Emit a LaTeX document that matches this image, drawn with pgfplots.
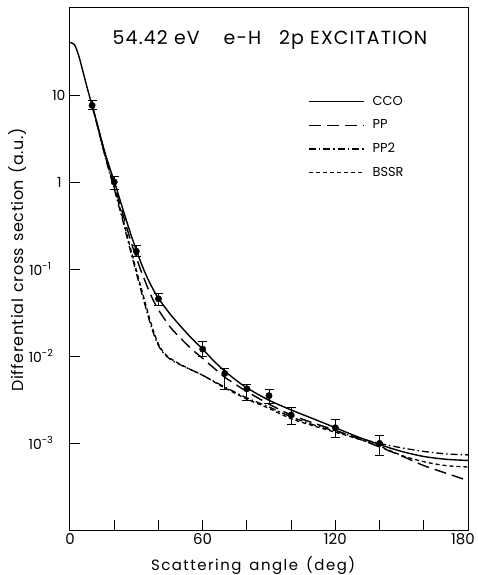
\documentclass[border=0pt]{standalone}
\usepackage{fontspec}
\setmainfont{Poppins}
\newfontfamily\wideA[LetterSpace=4]{Poppins}
\newfontfamily\wideB[LetterSpace=10]{Poppins}
\newfontfamily\wideT[LetterSpace=6]{Poppins}
\usepackage{pgfplots}
\pgfplotsset{compat=1.18}
\begin{document}
\begin{tikzpicture}
\path[use as bounding box] (-70bp,-45bp) rectangle (408bp,530bp);
\begin{axis}[
  at={(0,0)}, anchor=south west,
  scale only axis, width=398bp, height=522bp,
  xmin=0, xmax=180, ymode=log, ymin=1e-4, ymax=100,
  xtick={0,20,...,180}, xticklabels={0,,,60,,,120,,,180\kern10bp},
  ytick={0.001,0.01,0.1,1,10},
  yticklabels={10\textsuperscript{-3}\kern12bp,10\textsuperscript{-2}\kern12bp,10\textsuperscript{-1}\kern14bp,1\kern4bp,10},
  yminorticks=false, xminorticks=false,
  tick align=inside, tick pos=left, major tick length=10bp,
  axis line style={line width=1bp},
  every tick/.style={line width=1bp, black},
  xticklabel style={font=\fontsize{15}{15}\selectfont},
  yticklabel style={font=\fontsize{14}{14}\selectfont, xshift=-1bp},
  xlabel={Scattering\kern8bp angle\kern8bp (deg)},
  ylabel={Differential\kern6bp cross\kern6bp section\kern6bp (a.u.)},
  xlabel style={font=\wideB\fontsize{15}{15}\selectfont, at={(axis description cs:0.46,-0.0785)}, anchor=base},
  ylabel style={font=\wideA\fontsize{16}{16}\selectfont, at={(axis description cs:-0.133,0.517)}, anchor=center},
  legend style={draw=none, fill=none, at={(0.598,0.835)}, anchor=north west,
    font=\fontsize{13}{13}\selectfont, row sep=9bp, inner sep=0pt, cells={anchor=west}},
  legend image code/.code={\draw[#1] (0bp,0bp) -- (55bp,0bp);},
]
\addplot[black, line width=1.4bp, smooth] coordinates {
(0,40) (2,38) (4,28) (6,18) (8,11.5) (10,7.6) (12,5.0) (14,3.2) (16,2.1) (18,1.45)
(20,1.02) (22,0.7) (24,0.48) (26,0.33) (28,0.23) (30,0.165) (32,0.12) (34,0.09)
(36,0.07) (38,0.056) (40,0.046) (45,0.031) (50,0.022) (55,0.016) (60,0.012)
(65,0.0088) (70,0.0067) (75,0.0053) (80,0.0043) (90,0.0031) (100,0.0024)
(110,0.0019) (120,0.0015) (130,0.00118) (140,0.00096) (150,0.0008) (160,0.0007)
(170,0.00065) (180,0.00063)};
\addlegendentry{\kern6bp CCO}
\addplot[black, line width=1.4bp, smooth, dash pattern=on 12bp off 6bp] coordinates {
(10,7.5) (12,4.9) (14,3.1) (16,2.0) (18,1.35) (20,0.93) (22,0.63) (24,0.42)
(26,0.28) (28,0.19) (30,0.135) (32,0.097) (34,0.072) (36,0.054) (38,0.042)
(40,0.034) (45,0.022) (50,0.016) (55,0.012) (60,0.0094) (65,0.0073) (70,0.0057)
(75,0.0047) (80,0.0039) (90,0.0028) (100,0.0021) (110,0.0017) (120,0.0014)
(130,0.00113) (140,0.0009) (150,0.00071) (160,0.00055) (170,0.00045) (180,0.00037)};
\addlegendentry{\kern6bp PP}
\addplot[black, line width=1.3bp, smooth, dash pattern=on 7bp off 3bp on 1.5bp off 3bp] coordinates {
(10,7.5) (12,4.8) (14,3.0) (16,1.9) (18,1.25) (20,0.83) (22,0.54) (24,0.35)
(26,0.22) (28,0.14) (30,0.09) (32,0.058) (34,0.038) (36,0.025) (38,0.0175)
(40,0.0132) (42,0.011) (45,0.0093) (50,0.0079) (55,0.0069) (60,0.006) (70,0.0044)
(80,0.0033) (90,0.0026) (100,0.002) (110,0.00162) (120,0.00137) (130,0.00115)
(140,0.00099) (150,0.00088) (160,0.0008) (170,0.00075) (180,0.00073)};
\addlegendentry{\kern6bp PP2}
\addplot[black, line width=1.3bp, smooth, dash pattern=on 4bp off 3bp] coordinates {
(10,7.5) (12,4.9) (14,3.05) (16,1.95) (18,1.3) (20,0.86) (22,0.57) (24,0.37)
(26,0.235) (28,0.15) (30,0.097) (32,0.063) (34,0.041) (36,0.027) (38,0.0185)
(40,0.0137) (42,0.0113) (45,0.0095) (50,0.008) (55,0.0069) (60,0.006) (70,0.0043)
(80,0.0032) (90,0.0025) (100,0.0019) (110,0.00158) (120,0.00133) (130,0.00112)
(140,0.00092) (150,0.00072) (160,0.00061) (170,0.00055) (180,0.00053)};
\addlegendentry{\kern6bp BSSR}
\addplot[forget plot, only marks, black, mark=*, mark size=3.2bp,
  error bars/.cd, y dir=both, y explicit,
  error bar style={line width=1bp, black},
  error mark options={rotate=90, mark size=4.5bp, line width=1bp, black}]
  table[x=x, y=y, y error plus=ep, y error minus=em] {
x y ep em
10 7.6 1.15 0.76
20 1.0 0.17 0.18
30 0.16 0.025 0.022
40 0.0455 0.0065 0.0077
60 0.012 0.0026 0.0022
70 0.0063 0.0009 0.0022
80 0.0042 0.0005 0.0011
90 0.0035 0.0006 0.00064
100 0.0021 0.00047 0.00048
120 0.0015 0.00034 0.00034
140 0.00099 0.00024 0.00028
};
\node[font=\wideT\fontsize{19}{19}\selectfont] at (rel axis cs:0.5025,0.939)
  {54.42 eV\kern24bp e-H\kern18bp 2p EXCITATION};
\end{axis}
\end{tikzpicture}
\end{document}
